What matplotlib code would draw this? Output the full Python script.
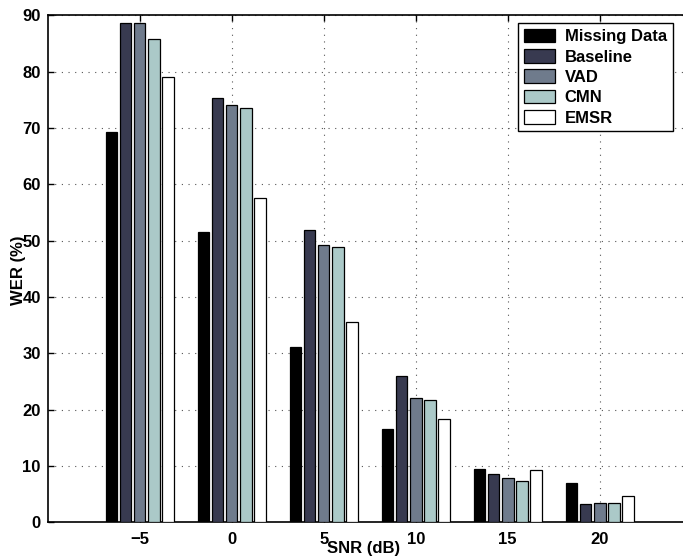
import matplotlib
matplotlib.use("Agg")
import matplotlib.pyplot as plt
import numpy as np

plt.rcParams['font.family'] = ['Liberation Sans', 'DejaVu Sans']
plt.rcParams['font.weight'] = 'bold'

snr_labels = ['\u22125', '0', '5', '10', '15', '20']
series_names = ['Missing Data', 'Baseline', 'VAD', 'CMN', 'EMSR']
missing_data = [69.2, 51.5, 31.1, 16.6, 9.5, 6.9]
baseline = [88.6, 75.3, 51.8, 25.9, 8.5, 3.25]
vad = [88.6, 74.0, 49.2, 22.0, 7.8, 3.4]
cmn = [85.7, 73.6, 48.9, 21.7, 7.3, 3.4]
emsr = [79.0, 57.5, 35.6, 18.3, 9.3, 4.6]
colors = ['#000000', '#383a50', '#6f7b8c', '#abc9c8', '#ffffff']

fig = plt.figure(figsize=(6.83, 5.59), dpi=100)
ax = fig.add_axes([0.0698, 0.0657, 0.943, 0.907])

x = np.arange(1, len(snr_labels) + 1)
step = 0.153
width = 0.126
for i, vals in enumerate([missing_data, baseline, vad, cmn, emsr]):
    ax.bar(x + (i - 2) * step, vals, width, color=colors[i], edgecolor='black',
           linewidth=0.9, label=series_names[i], zorder=3)

ax.set_xlim(0, 7)
ax.set_ylim(0, 90)
ax.set_xticks(x)
ax.set_xticklabels(snr_labels)
ax.set_yticks(np.arange(0, 91, 10))
ax.tick_params(labelsize=12, direction='in', top=True, right=True, length=4, width=1)
ax.tick_params(axis='x', pad=7)
ax.tick_params(axis='y', pad=5)
ax.grid(True, linestyle=(0, (1, 5)), color='#555555', linewidth=0.8)
ax.set_axisbelow(True)
for s in ax.spines.values():
    s.set_linewidth(1.2)

ax.set_xlabel('SNR (dB)', fontsize=12, fontweight='bold', va='center')
ax.xaxis.set_label_coords(0.49, -0.051)
ax.set_ylabel('WER (%)', fontsize=12, fontweight='bold', va='center', ha='center')
ax.yaxis.set_label_coords(-0.046, 0.498)

leg = ax.legend(loc='upper left', bbox_to_anchor=(518 / 683, 1 - 22.7 / 559),
                bbox_transform=fig.transFigure, fancybox=False, edgecolor='black',
                framealpha=1, prop={'size': 12, 'weight': 'bold'},
                handlelength=1.85, handleheight=0.9, labelspacing=0.28,
                borderpad=0.35, handletextpad=0.6, borderaxespad=0)
leg.get_frame().set_linewidth(1.0)

fig.savefig('out.png', dpi=100)
